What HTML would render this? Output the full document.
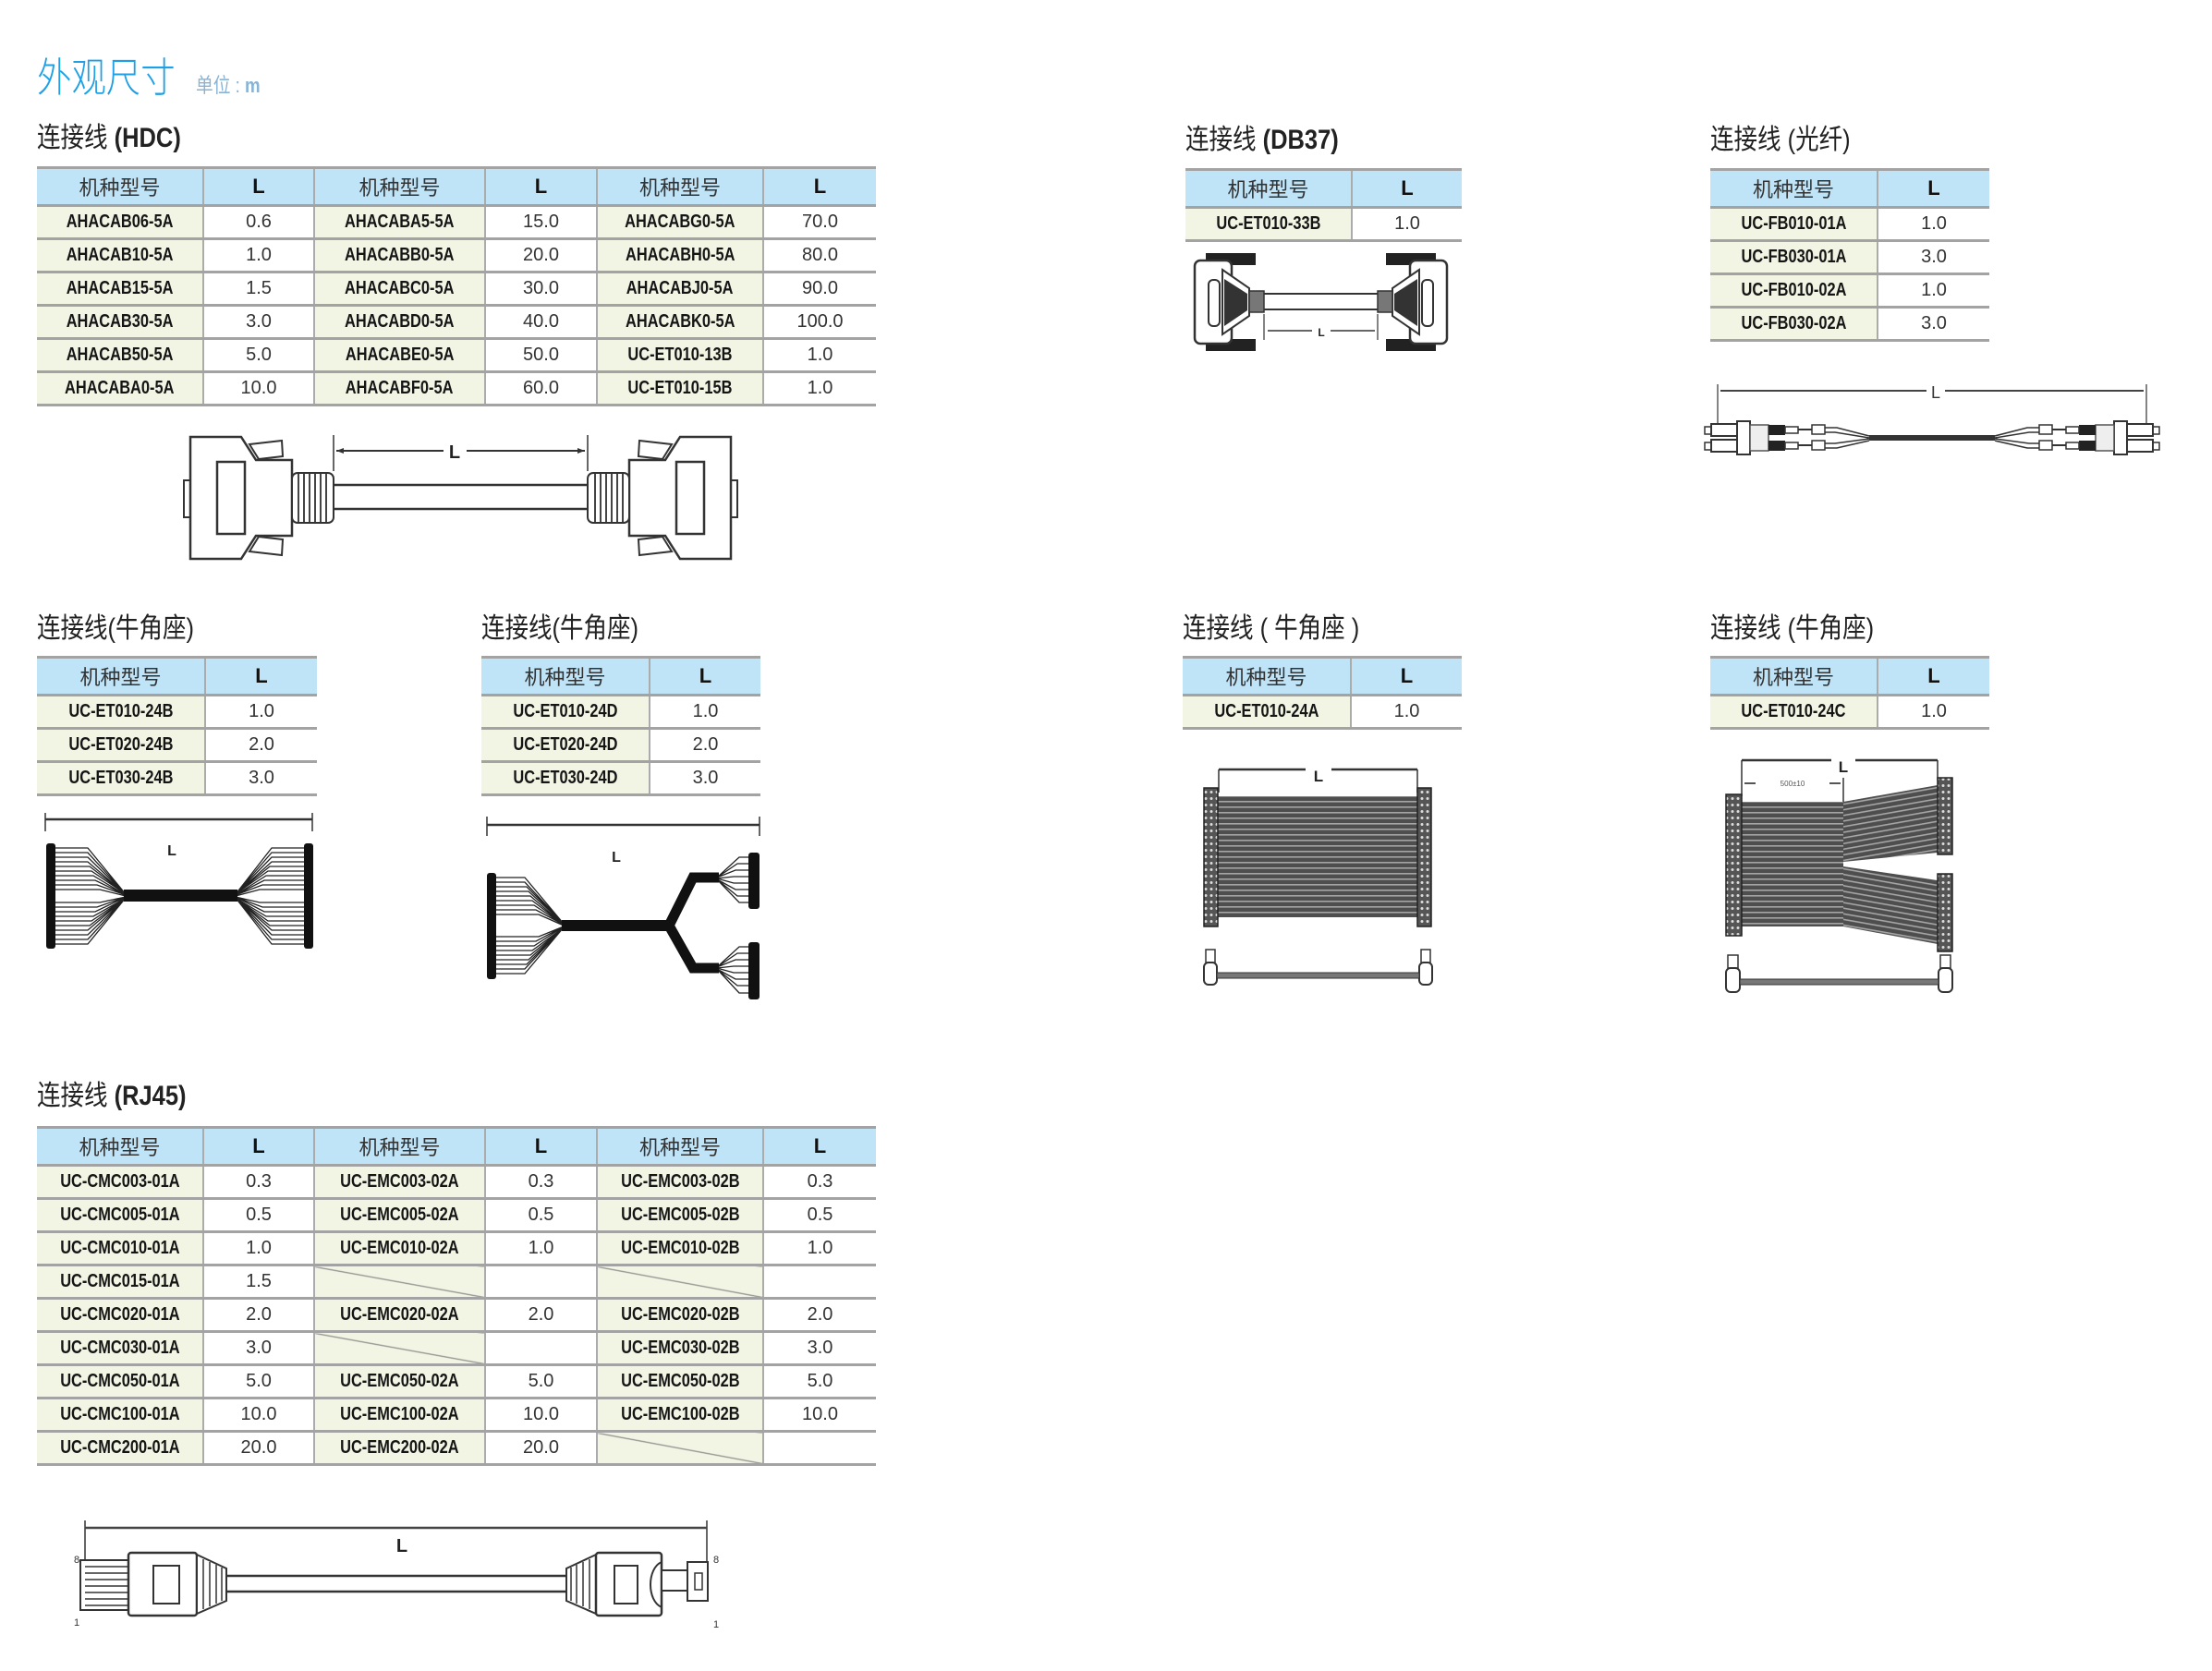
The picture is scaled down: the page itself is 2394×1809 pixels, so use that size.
<!DOCTYPE html>
<html><head><meta charset="utf-8">
<style>
html,body{margin:0;padding:0;background:#fff;}
body{width:2394px;height:1809px;position:relative;overflow:hidden;font-family:"Liberation Sans","Noto Sans CJK SC",sans-serif;}
.abs{position:absolute;line-height:1;white-space:nowrap;}
.ttl{font-size:30px;color:#222;font-family:"Liberation Sans","Noto Sans CJK SC",sans-serif;transform:scaleX(.85);transform-origin:0 0;}
.ttl b{font-family:"Liberation Sans",sans-serif;font-weight:bold;}
table.t{position:absolute;border-collapse:collapse;table-layout:fixed;border-top:3px solid #a3a3a3;font-family:"Liberation Sans","Noto Sans CJK SC",sans-serif;}
table.t td{padding:0;text-align:center;vertical-align:middle;border-bottom:3px solid #a3a3a3;border-left:2px solid #ababab;height:33px;font-size:20px;color:#333;background:#fff;overflow:hidden;white-space:nowrap;}
table.t td:first-child{border-left:none;}
table.t tr.h td{background:#bfe3f7;height:38px;font-size:22px;color:#333;}
table.t tr.h td.L{font-weight:bold;color:#111;font-size:22px;}
table.t td.m{background:#f2f5e4;font-weight:bold;color:#151515;}
table.t td i{font-style:normal;display:inline-block;transform:scaleX(.82);}
table.t td.s{background:#f2f5e4 linear-gradient(to top right,transparent calc(50% - 1.2px),#8a8a8a 50%,transparent calc(50% + 1.2px));}
</style></head><body>

<div class="abs" style="left:40px;top:58px;font-size:44px;color:#1ea0e6;font-family:'Noto Sans CJK SC',sans-serif;font-weight:300;transform:scaleX(.85);transform-origin:0 0;">外观尺寸</div>
<div class="abs" style="left:212px;top:82px;font-size:22px;color:#86b3d6;font-family:'Liberation Sans','Noto Sans CJK SC',sans-serif;transform:scaleX(.85);transform-origin:0 0;">单位 : <b>m</b></div>

<div class="abs ttl" style="left:40px;top:135px;">连接线 <b>(HDC)</b></div>
<div class="abs ttl" style="left:1283px;top:137px;">连接线 <b>(DB37)</b></div>
<div class="abs ttl" style="left:1851px;top:137px;">连接线 (光纤)</div>
<div class="abs ttl" style="left:40px;top:666px;">连接线(牛角座)</div>
<div class="abs ttl" style="left:521px;top:666px;">连接线(牛角座)</div>
<div class="abs ttl" style="left:1280px;top:666px;">连接线 ( 牛角座 )</div>
<div class="abs ttl" style="left:1851px;top:666px;">连接线 (牛角座)</div>
<div class="abs ttl" style="left:40px;top:1172px;">连接线 <b>(RJ45)</b></div>

<!-- HDC -->
<table class="t" style="left:40px;top:180px;width:908px;">
<colgroup><col style="width:180px"><col style="width:120px"><col style="width:185px"><col style="width:121px"><col style="width:180px"><col style="width:122px"></colgroup>
<tr class="h"><td>机种型号</td><td class="L">L</td><td>机种型号</td><td class="L">L</td><td>机种型号</td><td class="L">L</td></tr>
<tr><td class="m"><i>AHACAB06-5A</i></td><td>0.6</td><td class="m"><i>AHACABA5-5A</i></td><td>15.0</td><td class="m"><i>AHACABG0-5A</i></td><td>70.0</td></tr>
<tr><td class="m"><i>AHACAB10-5A</i></td><td>1.0</td><td class="m"><i>AHACABB0-5A</i></td><td>20.0</td><td class="m"><i>AHACABH0-5A</i></td><td>80.0</td></tr>
<tr><td class="m"><i>AHACAB15-5A</i></td><td>1.5</td><td class="m"><i>AHACABC0-5A</i></td><td>30.0</td><td class="m"><i>AHACABJ0-5A</i></td><td>90.0</td></tr>
<tr><td class="m"><i>AHACAB30-5A</i></td><td>3.0</td><td class="m"><i>AHACABD0-5A</i></td><td>40.0</td><td class="m"><i>AHACABK0-5A</i></td><td>100.0</td></tr>
<tr><td class="m"><i>AHACAB50-5A</i></td><td>5.0</td><td class="m"><i>AHACABE0-5A</i></td><td>50.0</td><td class="m"><i>UC-ET010-13B</i></td><td>1.0</td></tr>
<tr><td class="m"><i>AHACABA0-5A</i></td><td>10.0</td><td class="m"><i>AHACABF0-5A</i></td><td>60.0</td><td class="m"><i>UC-ET010-15B</i></td><td>1.0</td></tr>
</table>

<!-- DB37 -->
<table class="t" style="left:1283px;top:182px;width:299px;">
<colgroup><col style="width:180px"><col style="width:119px"></colgroup>
<tr class="h"><td>机种型号</td><td class="L">L</td></tr>
<tr><td class="m"><i>UC-ET010-33B</i></td><td>1.0</td></tr>
</table>

<!-- Fiber -->
<table class="t" style="left:1851px;top:182px;width:302px;">
<colgroup><col style="width:181px"><col style="width:121px"></colgroup>
<tr class="h"><td>机种型号</td><td class="L">L</td></tr>
<tr><td class="m"><i>UC-FB010-01A</i></td><td>1.0</td></tr>
<tr><td class="m"><i>UC-FB030-01A</i></td><td>3.0</td></tr>
<tr><td class="m"><i>UC-FB010-02A</i></td><td>1.0</td></tr>
<tr><td class="m"><i>UC-FB030-02A</i></td><td>3.0</td></tr>
</table>

<!-- row 2 tables -->
<table class="t" style="left:40px;top:710px;width:303px;">
<colgroup><col style="width:182px"><col style="width:121px"></colgroup>
<tr class="h"><td>机种型号</td><td class="L">L</td></tr>
<tr><td class="m"><i>UC-ET010-24B</i></td><td>1.0</td></tr>
<tr><td class="m"><i>UC-ET020-24B</i></td><td>2.0</td></tr>
<tr><td class="m"><i>UC-ET030-24B</i></td><td>3.0</td></tr>
</table>
<table class="t" style="left:521px;top:710px;width:302px;">
<colgroup><col style="width:182px"><col style="width:120px"></colgroup>
<tr class="h"><td>机种型号</td><td class="L">L</td></tr>
<tr><td class="m"><i>UC-ET010-24D</i></td><td>1.0</td></tr>
<tr><td class="m"><i>UC-ET020-24D</i></td><td>2.0</td></tr>
<tr><td class="m"><i>UC-ET030-24D</i></td><td>3.0</td></tr>
</table>
<table class="t" style="left:1280px;top:710px;width:302px;">
<colgroup><col style="width:182px"><col style="width:120px"></colgroup>
<tr class="h"><td>机种型号</td><td class="L">L</td></tr>
<tr><td class="m"><i>UC-ET010-24A</i></td><td>1.0</td></tr>
</table>
<table class="t" style="left:1851px;top:710px;width:302px;">
<colgroup><col style="width:181px"><col style="width:121px"></colgroup>
<tr class="h"><td>机种型号</td><td class="L">L</td></tr>
<tr><td class="m"><i>UC-ET010-24C</i></td><td>1.0</td></tr>
</table>

<!-- RJ45 -->
<table class="t" style="left:40px;top:1219px;width:908px;">
<colgroup><col style="width:180px"><col style="width:120px"><col style="width:185px"><col style="width:121px"><col style="width:180px"><col style="width:122px"></colgroup>
<tr class="h"><td>机种型号</td><td class="L">L</td><td>机种型号</td><td class="L">L</td><td>机种型号</td><td class="L">L</td></tr>
<tr><td class="m"><i>UC-CMC003-01A</i></td><td>0.3</td><td class="m"><i>UC-EMC003-02A</i></td><td>0.3</td><td class="m"><i>UC-EMC003-02B</i></td><td>0.3</td></tr>
<tr><td class="m"><i>UC-CMC005-01A</i></td><td>0.5</td><td class="m"><i>UC-EMC005-02A</i></td><td>0.5</td><td class="m"><i>UC-EMC005-02B</i></td><td>0.5</td></tr>
<tr><td class="m"><i>UC-CMC010-01A</i></td><td>1.0</td><td class="m"><i>UC-EMC010-02A</i></td><td>1.0</td><td class="m"><i>UC-EMC010-02B</i></td><td>1.0</td></tr>
<tr><td class="m"><i>UC-CMC015-01A</i></td><td>1.5</td><td class="s"></td><td></td><td class="s"></td><td></td></tr>
<tr><td class="m"><i>UC-CMC020-01A</i></td><td>2.0</td><td class="m"><i>UC-EMC020-02A</i></td><td>2.0</td><td class="m"><i>UC-EMC020-02B</i></td><td>2.0</td></tr>
<tr><td class="m"><i>UC-CMC030-01A</i></td><td>3.0</td><td class="s"></td><td></td><td class="m"><i>UC-EMC030-02B</i></td><td>3.0</td></tr>
<tr><td class="m"><i>UC-CMC050-01A</i></td><td>5.0</td><td class="m"><i>UC-EMC050-02A</i></td><td>5.0</td><td class="m"><i>UC-EMC050-02B</i></td><td>5.0</td></tr>
<tr><td class="m"><i>UC-CMC100-01A</i></td><td>10.0</td><td class="m"><i>UC-EMC100-02A</i></td><td>10.0</td><td class="m"><i>UC-EMC100-02B</i></td><td>10.0</td></tr>
<tr><td class="m"><i>UC-CMC200-01A</i></td><td>20.0</td><td class="m"><i>UC-EMC200-02A</i></td><td>20.0</td><td class="s"></td><td></td></tr>
</table>

<svg width="2394" height="1809" style="position:absolute;left:0;top:0;" xmlns="http://www.w3.org/2000/svg">
<defs>
<pattern id="rib" width="8" height="6" patternUnits="userSpaceOnUse"><rect width="8" height="6" fill="#4e4e4e"/><rect y="3" width="8" height="1.6" fill="#a5a5a5"/></pattern>
<pattern id="ribd" width="8" height="6" patternUnits="userSpaceOnUse" patternTransform="rotate(-10)"><rect width="8" height="6" fill="#4e4e4e"/><rect y="3" width="8" height="1.6" fill="#a5a5a5"/></pattern>
<pattern id="ribu" width="8" height="6" patternUnits="userSpaceOnUse" patternTransform="rotate(10)"><rect width="8" height="6" fill="#4e4e4e"/><rect y="3" width="8" height="1.6" fill="#a5a5a5"/></pattern>
<pattern id="dots" width="6" height="7" patternUnits="userSpaceOnUse"><rect width="6" height="7" fill="#555"/><circle cx="3" cy="3.5" r="1.5" fill="#ddd"/></pattern>
<g id="hdc">
  <rect x="199" y="520" width="8" height="40" fill="#fff" stroke="#333" stroke-width="2"/>
  <path d="M206,473 L261,473 L277,498 L316,498 L316,580 L277,580 L261,605 L206,605 Z" fill="#fff" stroke="#333" stroke-width="2.5"/>
  <path d="M270,481 L305,477 L306,494 L280,497 Z" fill="#fff" stroke="#333" stroke-width="2"/>
  <path d="M270,597 L305,601 L306,584 L280,581 Z" fill="#fff" stroke="#333" stroke-width="2"/>
  <rect x="235" y="500" width="30" height="78" fill="#fff" stroke="#333" stroke-width="2.5"/>
  <rect x="316" y="512" width="45" height="54" rx="6" fill="#fff" stroke="#333" stroke-width="2"/>
  <path d="M323,513 V565 M329,513 V565 M335,513 V565 M341,513 V565 M347,513 V565 M353,513 V565" stroke="#444" stroke-width="2"/>
</g>
<g id="db">
  <rect x="1305" y="274" width="54" height="13" fill="#222"/>
  <rect x="1305" y="367" width="54" height="13" fill="#222"/>
  <rect x="1293" y="282" width="40" height="90" rx="6" fill="#fff" stroke="#333" stroke-width="2.5"/>
  <rect x="1308" y="303" width="12" height="50" rx="5" fill="#fff" stroke="#333" stroke-width="2"/>
  <path d="M1323,292 L1352,312 L1352,342 L1323,362 Z" fill="#fff" stroke="#333" stroke-width="2"/>
  <path d="M1325,302 L1350,318 L1350,336 L1325,353 Z" fill="#333"/>
  <rect x="1352" y="315" width="16" height="23" fill="#777" stroke="#333" stroke-width="1.5"/>
</g>
<g id="fib">
  <rect x="1845" y="462" width="7" height="8" fill="#fff" stroke="#333" stroke-width="1.5"/>
  <rect x="1845" y="479" width="7" height="8" fill="#fff" stroke="#333" stroke-width="1.5"/>
  <rect x="1852" y="459" width="30" height="13" fill="#fff" stroke="#333" stroke-width="2"/>
  <rect x="1852" y="476" width="30" height="13" fill="#fff" stroke="#333" stroke-width="2"/>
  <rect x="1880" y="456" width="14" height="36" fill="#fff" stroke="#333" stroke-width="2"/>
  <rect x="1894" y="460" width="20" height="28" fill="#eee" stroke="#555" stroke-width="1.5"/>
  <rect x="1914" y="460" width="18" height="11" fill="#222"/>
  <rect x="1914" y="477" width="18" height="11" fill="#222"/>
  <rect x="1932" y="462" width="14" height="7" fill="#fff" stroke="#333" stroke-width="1.5"/>
  <rect x="1932" y="479" width="14" height="7" fill="#fff" stroke="#333" stroke-width="1.5"/>
  <path d="M1946,465 H1961 M1946,482 H1961" stroke="#333" stroke-width="2"/>
  <rect x="1961" y="460" width="14" height="10" fill="#fff" stroke="#333" stroke-width="1.5"/>
  <rect x="1961" y="477" width="14" height="10" fill="#fff" stroke="#333" stroke-width="1.5"/>
  <path d="M1975,463 H1988 L2023,472 M1975,468 H1986 L2023,474 M1975,480 H1986 L2023,475 M1975,485 H1988 L2023,477" stroke="#333" stroke-width="1.6" fill="none"/>
</g>
</defs>

<use href="#hdc"/>
<use href="#hdc" transform="translate(997,0) scale(-1,1)"/>
<path d="M361,525 H636 M361,551 H636" stroke="#333" stroke-width="2.5"/>
<path d="M361,471 V510 M636,471 V510" stroke="#333" stroke-width="1.5"/>
<path d="M364,488 H480 M505,488 H633" stroke="#333" stroke-width="2"/>
<path d="M364,488 l8,-3 v6 z M633,488 l-8,-3 v6 z" fill="#333"/>
<text x="492" y="496" font-family="Liberation Sans" font-weight="bold" font-size="20" text-anchor="middle" fill="#222">L</text>

<use href="#db"/>
<use href="#db" transform="translate(2859,0) scale(-1,1)"/>
<path d="M1368,318 H1491 M1368,335 H1491" stroke="#333" stroke-width="2"/>
<path d="M1368,340 V368 M1491,340 V368" stroke="#333" stroke-width="1.2"/>
<path d="M1372,358 H1420 M1440,358 H1488" stroke="#333" stroke-width="1.5"/>
<text x="1430" y="364" font-family="Liberation Sans" font-weight="bold" font-size="12" text-anchor="middle" fill="#222">L</text>

<path d="M1859,416 V470 M2323,416 V470" stroke="#333" stroke-width="1.2"/>
<path d="M1862,423 H2085 M2105,423 H2320" stroke="#444" stroke-width="2"/>
<text x="2095" y="431" font-family="Liberation Sans" font-size="18" text-anchor="middle" fill="#333">L</text>
<use href="#fib"/>
<use href="#fib" transform="translate(4182,0) scale(-1,1)"/>
<rect x="2023" y="471" width="136" height="6" fill="#333"/>

<path d="M49,880 V900 M338,880 V900" stroke="#333" stroke-width="1.5"/>
<path d="M49,887 H338" stroke="#333" stroke-width="2.5"/>
<text x="186" y="926" font-family="Liberation Sans" font-weight="bold" font-size="16" text-anchor="middle" fill="#222">L</text>
<rect x="50" y="913" width="10" height="114" rx="3" fill="#111"/>
<rect x="329" y="913" width="10" height="114" rx="3" fill="#111"/>
<g stroke="#222" stroke-width="1.3" fill="none">
<path d="M60,918 H95 L136,968 M60,923 H95 L136,968 M60,928 H95 L136,968 M60,933 H95 L136,968 M60,938 H97 L136,968 M60,943 H99 L136,968 M60,948 H101 L136,969 M60,953 H103 L136,969 M60,958 H105 L136,969 M60,963 H108 L136,970 M60,977 H108 L136,971 M60,982 H105 L136,971 M60,987 H103 L136,971 M60,992 H101 L136,972 M60,997 H99 L136,972 M60,1002 H97 L136,972 M60,1007 H95 L136,972 M60,1012 H95 L136,972 M60,1017 H95 L136,972 M60,1022 H95 L136,972"/>
<path d="M329,918 H294 L255,968 M329,923 H294 L255,968 M329,928 H294 L255,968 M329,933 H294 L255,968 M329,938 H292 L255,968 M329,943 H290 L255,968 M329,948 H288 L255,969 M329,953 H286 L255,969 M329,958 H284 L255,969 M329,963 H281 L255,970 M329,977 H281 L255,971 M329,982 H284 L255,971 M329,987 H286 L255,971 M329,992 H288 L255,972 M329,997 H290 L255,972 M329,1002 H292 L255,972 M329,1007 H294 L255,972 M329,1012 H294 L255,972 M329,1017 H294 L255,972 M329,1022 H294 L255,972"/>
</g>
<rect x="134" y="963" width="123" height="13" fill="#111"/>

<path d="M527,884 V905 M822,884 V905" stroke="#333" stroke-width="1.5"/>
<path d="M527,893 H822" stroke="#333" stroke-width="2.5"/>
<text x="667" y="933" font-family="Liberation Sans" font-weight="bold" font-size="16" text-anchor="middle" fill="#222">L</text>
<rect x="527" y="945" width="10" height="115" rx="3" fill="#111"/>
<g stroke="#222" stroke-width="1.3" fill="none">
<path d="M537,950 H568 L610,1000 M537,955 H568 L610,1000 M537,960 H570 L610,1000 M537,965 H572 L610,1000 M537,970 H574 L610,1001 M537,975 H576 L610,1001 M537,980 H578 L610,1001 M537,985 H580 L610,1001 M537,990 H583 L610,1002 M537,1014 H583 L610,1003 M537,1019 H580 L610,1003 M537,1024 H578 L610,1003 M537,1029 H576 L610,1004 M537,1034 H574 L610,1004 M537,1039 H572 L610,1004 M537,1044 H570 L610,1004 M537,1049 H568 L610,1004 M537,1054 H568 L610,1004"/>
<path d="M810,928 H800 L776,950 M810,935 H798 L776,950 M810,942 H796 L776,950 M810,949 H794 L776,951 M810,956 H794 L776,951 M810,963 H796 L776,952 M810,970 H798 L776,952 M810,977 H800 L776,952"/>
<path d="M810,1025 H800 L776,1047 M810,1032 H798 L776,1047 M810,1039 H796 L776,1047 M810,1046 H794 L776,1048 M810,1053 H794 L776,1048 M810,1060 H796 L776,1049 M810,1067 H798 L776,1049 M810,1075 H800 L776,1049"/>
</g>
<rect x="608" y="996" width="118" height="12" fill="#111"/>
<path d="M724,1002 L750,950 H778 M724,1002 L750,1048 H778" stroke="#111" stroke-width="11" fill="none"/>
<rect x="810" y="923" width="12" height="61" rx="3" fill="#111"/>
<rect x="810" y="1020" width="12" height="62" rx="3" fill="#111"/>

<path d="M1319,833 V858 M1534,833 V858" stroke="#333" stroke-width="1.5"/>
<path d="M1319,833 H1413 M1441,833 H1534" stroke="#333" stroke-width="2.5"/>
<text x="1427" y="846" font-family="Liberation Sans" font-weight="bold" font-size="17" text-anchor="middle" fill="#222">L</text>
<rect x="1318" y="862" width="216" height="131" fill="url(#rib)"/>
<rect x="1303" y="853" width="15" height="150" fill="url(#dots)" stroke="#222" stroke-width="1.5"/>
<rect x="1534" y="853" width="15" height="150" fill="url(#dots)" stroke="#222" stroke-width="1.5"/>
<rect x="1305" y="1028" width="10" height="14" fill="#fff" stroke="#333" stroke-width="1.5"/>
<rect x="1538" y="1028" width="10" height="14" fill="#fff" stroke="#333" stroke-width="1.5"/>
<rect x="1303" y="1042" width="14" height="24" rx="5" fill="#fff" stroke="#333" stroke-width="2"/>
<rect x="1536" y="1042" width="14" height="24" rx="5" fill="#fff" stroke="#333" stroke-width="2"/>
<rect x="1317" y="1053" width="219" height="6" fill="#777" stroke="#333" stroke-width="1"/>

<path d="M1885,823 V862 M2097,823 V845 M1995,842 V870" stroke="#333" stroke-width="1.5"/>
<path d="M1885,823 H1982 M2008,823 H2097" stroke="#333" stroke-width="2.5"/>
<text x="1995" y="836" font-family="Liberation Sans" font-weight="bold" font-size="17" text-anchor="middle" fill="#222">L</text>
<path d="M1888,848 H1900 M1980,848 H1992" stroke="#555" stroke-width="2"/>
<text x="1940" y="851" font-family="Liberation Sans" font-size="8" text-anchor="middle" fill="#555">500±10</text>
<rect x="1885" y="868" width="110" height="135" fill="url(#rib)"/>
<polygon points="1995,868 2097,850 2097,923 1995,933" fill="url(#ribd)"/>
<polygon points="1995,938 2097,953 2097,1022 1995,1003" fill="url(#ribu)"/>
<rect x="1868" y="860" width="17" height="153" fill="url(#dots)" stroke="#222" stroke-width="1.5"/>
<rect x="2097" y="842" width="16" height="83" fill="url(#dots)" stroke="#222" stroke-width="1.5"/>
<rect x="2097" y="946" width="16" height="84" fill="url(#dots)" stroke="#222" stroke-width="1.5"/>
<rect x="1870" y="1034" width="11" height="14" fill="#fff" stroke="#333" stroke-width="1.5"/>
<rect x="2100" y="1034" width="11" height="14" fill="#fff" stroke="#333" stroke-width="1.5"/>
<rect x="1868" y="1048" width="15" height="26" rx="5" fill="#fff" stroke="#333" stroke-width="2"/>
<rect x="2098" y="1048" width="15" height="26" rx="5" fill="#fff" stroke="#333" stroke-width="2"/>
<rect x="1883" y="1060" width="215" height="6" fill="#777" stroke="#333" stroke-width="1"/>

<path d="M92,1646 V1690 M765,1646 V1690" stroke="#333" stroke-width="1.5"/>
<path d="M92,1654 H765" stroke="#444" stroke-width="2.5"/>
<text x="435" y="1680" font-family="Liberation Sans" font-weight="bold" font-size="20" text-anchor="middle" fill="#222">L</text>
<text x="83" y="1692" font-family="Liberation Sans" font-size="11" text-anchor="middle" fill="#333">8</text>
<text x="83" y="1760" font-family="Liberation Sans" font-size="11" text-anchor="middle" fill="#333">1</text>
<text x="775" y="1692" font-family="Liberation Sans" font-size="11" text-anchor="middle" fill="#333">8</text>
<text x="775" y="1762" font-family="Liberation Sans" font-size="11" text-anchor="middle" fill="#333">1</text>
<rect x="87" y="1689" width="52" height="54" fill="#fff" stroke="#333" stroke-width="2"/>
<path d="M92,1696 H139 M92,1703 H139 M92,1710 H139 M92,1717 H139 M92,1724 H139 M92,1731 H139 M92,1738 H139" stroke="#333" stroke-width="1.5"/>
<rect x="139" y="1681" width="74" height="68" rx="3" fill="#fff" stroke="#333" stroke-width="2.5"/>
<rect x="166" y="1695" width="28" height="41" fill="#fff" stroke="#333" stroke-width="2"/>
<path d="M213,1683 L245,1698 L245,1733 L213,1747 Z" fill="#fff" stroke="#333" stroke-width="2"/>
<path d="M220,1688 V1742 M227,1691 V1739 M234,1694 V1736 M240,1697 V1733" stroke="#333" stroke-width="1.5"/>
<path d="M245,1706 H613 M245,1723 H613" stroke="#333" stroke-width="2.5"/>
<path d="M645,1683 L613,1698 L613,1733 L645,1747 Z" fill="#fff" stroke="#333" stroke-width="2"/>
<path d="M638,1688 V1742 M631,1691 V1739 M624,1694 V1736 M618,1697 V1733" stroke="#333" stroke-width="1.5"/>
<rect x="645" y="1681" width="71" height="68" rx="3" fill="#fff" stroke="#333" stroke-width="2.5"/>
<rect x="665" y="1695" width="25" height="41" fill="#fff" stroke="#333" stroke-width="2"/>
<path d="M716,1691 C700,1698 700,1733 716,1740" fill="none" stroke="#333" stroke-width="2"/>
<rect x="716" y="1700" width="28" height="22" fill="#fff" stroke="#333" stroke-width="2"/>
<rect x="744" y="1691" width="22" height="42" fill="#fff" stroke="#333" stroke-width="2"/>
<rect x="752" y="1703" width="8" height="18" fill="#fff" stroke="#333" stroke-width="1.5"/>
</svg>
</body></html>
